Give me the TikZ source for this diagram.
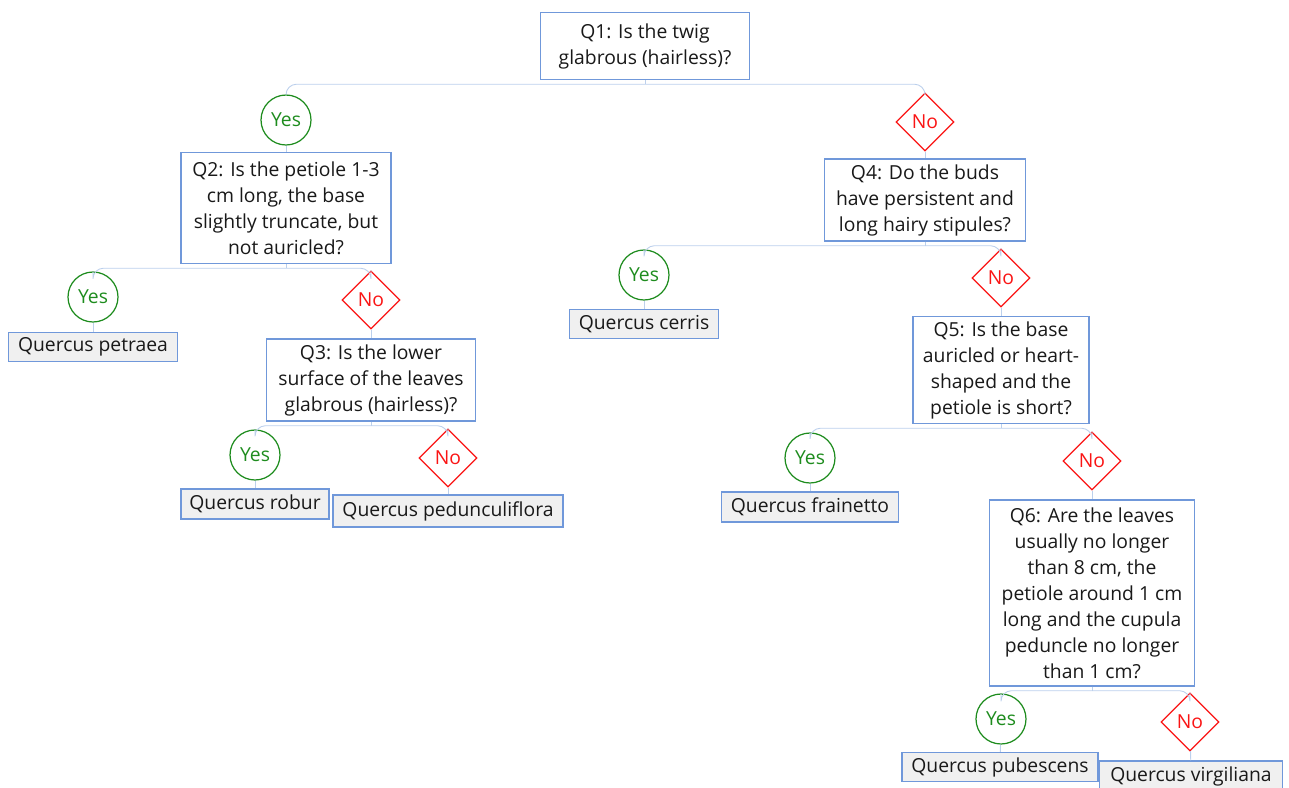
\documentclass[tikz,border=0pt]{standalone}
\usepackage{fontspec}
\setmainfont{Open Sans}
\usepackage{tikz}
\usetikzlibrary{shapes.geometric}

\definecolor{boxblue}{RGB}{112,152,218}
\definecolor{linkblue}{RGB}{188,208,236}
\definecolor{leafgray}{RGB}{240,240,240}
\definecolor{yesgreen}{RGB}{30,140,30}
\definecolor{nored}{RGB}{250,20,20}
\definecolor{txt}{RGB}{25,25,25}

\begin{document}
\begin{tikzpicture}[x=0.02cm, y=-0.02cm,
	every node/.style={font=\fontsize{11}{14.8}\selectfont, text=txt},
	qbox/.style={draw=boxblue, line width=0.8pt, fill=white, align=center, inner sep=0pt},
	leaf/.style={draw=boxblue, line width=0.8pt, fill=leafgray, inner sep=0pt, minimum height=0.58cm},
	yes/.style={draw=yesgreen, line width=0.7pt, circle, minimum size=1cm, inner sep=0pt, text=yesgreen},
	no/.style={draw=nored, line width=0.7pt, diamond, aspect=1, minimum size=1.16cm, inner sep=0pt, text=nored},
	link/.style={draw=linkblue, line width=0.5pt, rounded corners=6pt}]
					\useasboundingbox (0,0) rectangle (1289,788);
					% questions
					\node[qbox, minimum width=4.18cm, minimum height=1.34cm] at (645,46)(q1){Q1: Is the twig\\glabrous (hairless)?};
					\node[qbox, minimum width=4.2cm, minimum height=2.22cm] at (286,208)(q2){Q2: Is the petiole 1-3\\cm long, the base\\slightly truncate, but\\not auricled?};
					\node[qbox, minimum width=4.18cm, minimum height=1.64cm] at (371,380)(q3){Q3: Is the lower\\surface of the leaves\\glabrous (hairless)?};
					\node[qbox, minimum width=4.02cm, minimum height=1.64cm] at (925,200)(q4){Q4: Do the buds\\have persistent and\\long hairy stipules?};
					\node[qbox, minimum width=3.52cm, minimum height=2.14cm] at (1001,370)(q5){Q5: Is the base\\auricled or heart-\\shaped and the\\petiole is short?};
					\node[qbox, minimum width=4.1cm, minimum height=3.72cm] at (1092,593)(q6){Q6: Are the leaves\\usually no longer\\than 8 cm, the\\petiole around 1 cm\\long and the cupula\\peduncle no longer\\than 1 cm?};
					% answers
					\node[yes] at (286,120)(y1){Yes};
					\node[no] at (925,122)(n1){No};
					\node[yes] at (93,297)(y2){Yes};
					\node[no] at (371,300)(n2){No};
					\node[yes] at (255,455)(y3){Yes};
					\node[no] at (448,458)(n3){No};
					\node[yes] at (644,275)(y4){Yes};
					\node[no] at (1001,278)(n4){No};
					\node[yes] at (810,458)(y5){Yes};
					\node[no] at (1092,461)(n5){No};
					\node[yes] at (1001,719)(y6){Yes};
					\node[no] at (1190,722)(n6){No};
					% species
					\node[leaf, minimum width=3.38cm] at (93,347)(petraea){Quercus petraea};
					\node[leaf, minimum width=2.96cm, minimum height=0.6cm] at (255,504)(robur){Quercus robur};
					\node[leaf, minimum width=4.6cm, minimum height=0.64cm] at (448,511)(pedunculiflora){Quercus pedunculiflora};
					\node[leaf, minimum width=2.98cm] at (644,324)(cerris){Quercus cerris};
					\node[leaf, minimum width=3.54cm, minimum height=0.6cm] at (810,507)(frainetto){Quercus frainetto};
					\node[leaf, minimum width=3.92cm] at (1000,767)(pubescens){Quercus pubescens};
					\node[leaf, minimum width=3.66cm, minimum height=0.6cm] at (1191,776)(virgiliana){Quercus virgiliana};
					% links
					\foreach \q/\a/\b in {q1/y1/n1, q2/y2/n2, q3/y3/n3, q4/y4/n4, q5/y5/n5, q6/y6/n6}{
						\draw[link] (\q.south) -- ++(0,4) coordinate (\q-j);
						\draw[link] (\q-j) -| (\a.north);
						\draw[link] (\q-j) -| (\b.north);
					}
					\draw[link] (y1)--(q2);
					\draw[link] (n1)--(q4);
					\draw[link] (y2)--(petraea);
					\draw[link] (n2)--(q3);
					\draw[link] (y3)--(robur);
					\draw[link] (n3)--(pedunculiflora);
					\draw[link] (y4)--(cerris);
					\draw[link] (n4)--(q5);
					\draw[link] (y5)--(frainetto);
					\draw[link] (n5)--(q6);
					\draw[link] (y6)--(pubescens);
					\draw[link] (n6)--(virgiliana);
				\end{tikzpicture}
\end{document}
